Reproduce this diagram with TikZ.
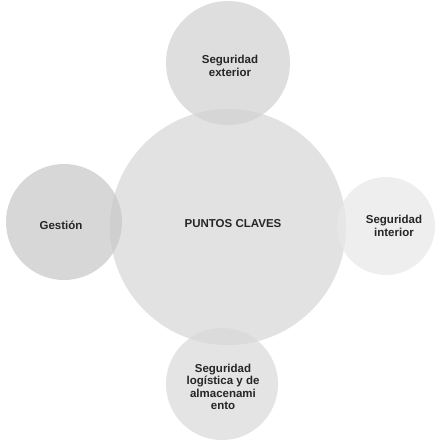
\documentclass[tikz,border=0pt]{standalone}
\usepackage{fontspec}
\setmainfont{Liberation Sans}
\begin{document}
\begin{tikzpicture}[x=1pt,y=-1pt,
  circ/.style={circle,minimum size=#1,inner sep=0pt,fill opacity=0.7,text opacity=1},
  lbl/.style={font=\bfseries\fontsize{11.5}{12.5}\selectfont,text=black!85,align=center}]
\useasboundingbox (0,0) rectangle (435,440);
\fill[white] (0,0) rectangle (435,440);
\node[circ=236pt,fill=black!16] (c) at (228,227) {};
\node[circ=124pt,fill=black!18] (t) at (228,63) {};
\node[circ=116pt,fill=black!22] (l) at (64,222) {};
\node[circ=98pt,fill=black!9] (r) at (386,226) {};
\node[circ=112pt,fill=black!15] (b) at (222,384) {};
\node[lbl] (ct) at (233,224) {PUNTOS CLAVES};
\node[lbl] (tt) at (230,66) {Seguridad\\exterior};
\node[lbl] (lt) at (61,225) {Gestión};
\node[lbl] (rt) at (394,226) {Seguridad\\interior};
\node[lbl] (bt) at (223,387) {Seguridad\\logística y de\\almacenami\\ento};
\end{tikzpicture}
\end{document}
